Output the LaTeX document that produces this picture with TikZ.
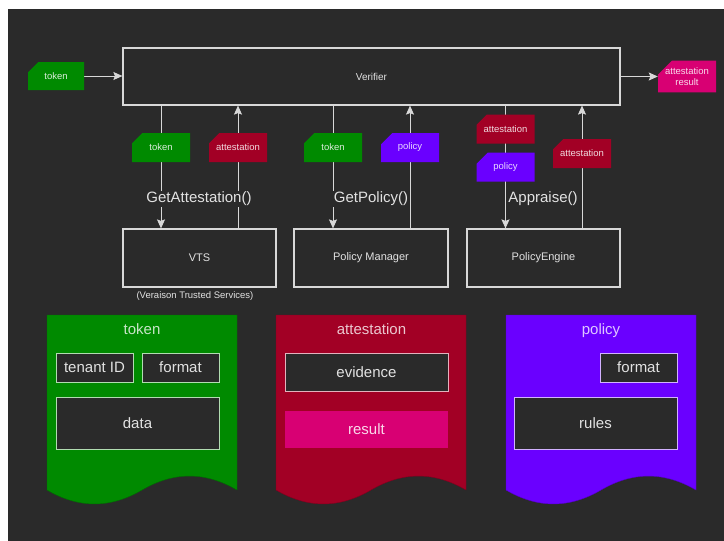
\documentclass[tikz,border=0pt]{standalone}
\usepackage{fontspec}
\setmainfont{Liberation Sans}
\usetikzlibrary{arrows.meta,shapes.misc}

\definecolor{darkbg}{HTML}{2A2A2A}
\definecolor{wirecol}{HTML}{D8D8D8}
\definecolor{txt}{HTML}{E2E2E2}
\definecolor{tokgreen}{HTML}{008A00}
\definecolor{attred}{HTML}{A20025}
\definecolor{respink}{HTML}{D80073}
\definecolor{polviolet}{HTML}{6A00FF}

\pgfdeclarelayer{back}
\pgfsetlayers{back,main}

\tikzset{
  box/.style={draw=wirecol, fill=darkbg, line width=1.2pt, text=txt,
    font=\fontsize{11}{13}\selectfont, minimum width=153pt, minimum height=58pt},
  tag/.style={chamfered rectangle, chamfered rectangle corners=north west,
    chamfered rectangle sep=7pt, fill=#1, text=#1!15!white, inner sep=0pt,
    minimum width=58pt, minimum height=29pt, align=center,
    font=\fontsize{9.5}{11}\selectfont},
  call/.style={fill=darkbg, text=txt, inner sep=1pt, font=\fontsize{15}{17}\selectfont},
  head/.style={text=#1!22!white, anchor=base, font=\fontsize{15}{17}\selectfont},
  part/.style={draw=#1!30!white, fill=darkbg, line width=1pt, text=txt,
    font=\fontsize{15}{17}\selectfont},
  link/.style={draw=wirecol, line width=1pt, ->},
}

\begin{document}
\begin{tikzpicture}[x=1pt, y=-1pt, >={Stealth[length=9pt,width=8pt,inset=1.5pt]}]
\useasboundingbox (0,0) rectangle (724,541);

% services
\node[box, minimum width=497pt, minimum height=57pt, font=\fontsize{10}{12}\selectfont] (ver) at (371.5,76.5) {Verifier};
\node[box] (vts) at (199.5,258) {VTS};
\node[box, minimum width=154pt] (pm) at (371,258) {Policy Manager};
\node[box] (pe) at (543.5,258) {PolicyEngine};
\node[text=txt, font=\fontsize{9.5}{11}\selectfont] (vtsnote) at (195,296) {(Veraison Trusted Services)};

% messages
\node[tag=tokgreen, minimum width=56pt, minimum height=28pt] (tin) at (56,76) {token};
\node[tag=respink] (res) at (687,76.5) {attestation\\result};
\node[tag=tokgreen] (t1) at (161,147.5) {token};
\node[tag=attred] (a1) at (238,147.5) {attestation};
\node[tag=tokgreen] (t2) at (333,147.5) {token};
\node[tag=polviolet] (p2) at (410,147.5) {policy};
\node[tag=attred] (a3) at (505.5,129) {attestation};
\node[tag=polviolet] (p3) at (505.5,167) {policy};
\node[tag=attred] (a4) at (582,153.5) {attestation};

% calls
\node[call] (c1) at (199,199) {GetAttestation()};
\node[call] (c2) at (371,199) {GetPolicy()};
\node[call] (c3) at (543,199) {Appraise()};

\begin{pgfonlayer}{back}
\fill[white] (0,0) rectangle (724,541);
\fill[darkbg] (8,9) rectangle (724,541);
\draw[link] (tin.east) -- (tin.east -| ver.west);
\draw[link] (ver.east |- res) -- (res.west);
\draw[link] (t1 |- ver.south) -- (t1 |- vts.north);
\draw[link] (a1 |- vts.north) -- (a1 |- ver.south);
\draw[link] (t2 |- ver.south) -- (t2 |- pm.north);
\draw[link] (p2 |- pm.north) -- (p2 |- ver.south);
\draw[link] (a3 |- ver.south) -- (a3 |- pe.north);
\draw[link] (a4 |- pe.north) -- (a4 |- ver.south);
\end{pgfonlayer}

% data structures
\foreach \x/\c in {47/tokgreen, 276/attred, 506/polviolet}
  \filldraw[fill=\c, draw=\c!80!black] (\x,315) -- (\x+190,315) -- (\x+190,490)
    .. controls (\x+158.3,471.4) and (\x+126.7,471.4) .. (\x+95,490)
    .. controls (\x+63.3,508.6) and (\x+31.7,508.6) .. (\x,490) -- cycle;

\node[head=tokgreen] (tokhead) at (142,334) {token};
\node[part=tokgreen, minimum width=77pt, minimum height=29pt] (tid) at (94.5,367.5) {tenant ID};
\node[part=tokgreen, minimum width=77pt, minimum height=29pt] (tfmt) at (180.5,367.5) {format};
\node[part=tokgreen, minimum width=163pt, minimum height=52pt] (tdata) at (137.5,423) {data};

\node[head=attred] (atthead) at (371.5,334) {attestation};
\node[part=attred, minimum width=163pt, minimum height=38pt] (evid) at (366.5,372) {evidence};
\node[fill=respink, text=respink!15!white, minimum width=163pt, minimum height=37pt,
  font=\fontsize{15}{17}\selectfont] (resbox) at (366.5,429.5) {result};

\node[head=polviolet] (polhead) at (601,334) {policy};
\node[part=polviolet, minimum width=77pt, minimum height=29pt] (pfmt) at (638.5,367.5) {format};
\node[part=polviolet, minimum width=163pt, minimum height=52pt] (prules) at (595.5,423) {rules};
\end{tikzpicture}
\end{document}
